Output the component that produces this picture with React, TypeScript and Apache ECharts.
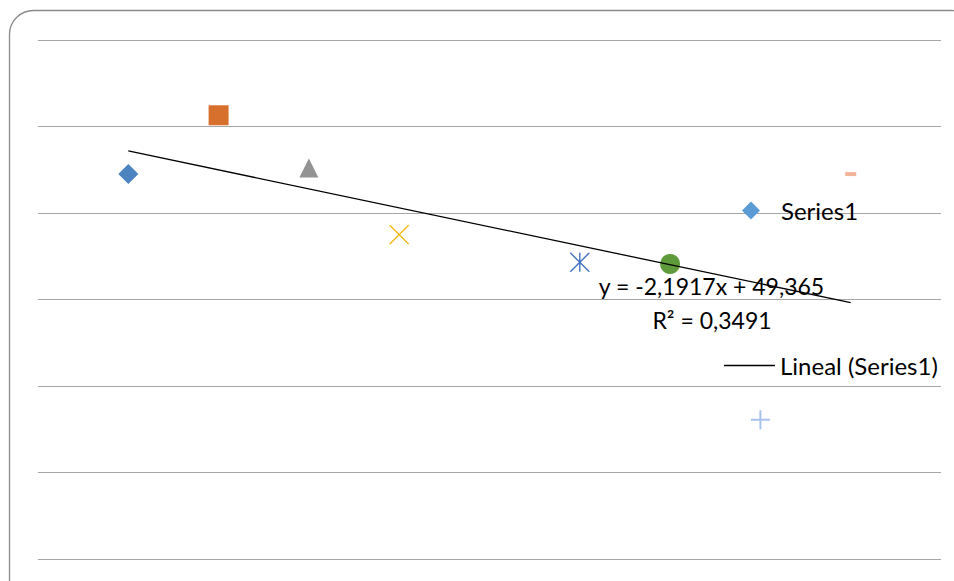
import React, { useEffect, useRef } from "react";
import * as echarts from "echarts";

// ---- data ----
const X_VALUES = [1, 2, 3, 4, 6, 7, 8, 9];
const Y_VALUES = [44.5, 51.3, 45.2, 37.5, 34.3, 34.1, 16.1, 44.5];
const SERIES_NAME = "Series1";
const TREND_NAME = "Lineal (Series1)";
const TREND_SLOPE = -2.1917;
const TREND_INTERCEPT = 49.365;
const R_SQUARED = "0,3491";
const Y_MIN = 0;
const Y_MAX = 60;
const Y_STEP = 10;
const X_MIN = 0;
const X_MAX = 10;

// ---- marker styles (one per point, Excel "vary colors by point") ----
const MARKERS = [
  { symbol: "diamond", size: 20, fill: "#4b84c1" },
  { symbol: "rect", size: 20, fill: "#d6702c" },
  { symbol: "triangle", size: 19, fill: "#939393" },
  { symbol: "path://M0,0L10,10M10,0L0,10", size: 19, stroke: "#f2b300", lw: 1.4 },
  { symbol: "path://M0,0L10,10M10,0L0,10M5,0L5,10", size: 19, stroke: "#4472c4", lw: 1.4 },
  { symbol: "circle", size: 20, fill: "#5f9b3b" },
  { symbol: "path://M5,0L5,10M0,5L10,5", size: 19, stroke: "#a7c3ea", lw: 2 },
  { symbol: "rect", size: [11, 4], fill: "#f4b49a" },
];

const fmt = (v: number) => String(v).replace(".", ",");

export default function App() {
  const ref = useRef<HTMLDivElement>(null);
  useEffect(() => {
    if (!ref.current) return;
    const chart = echarts.init(ref.current, null, { renderer: "svg" });
    const xs = X_VALUES;
    const xMinData = Math.min(...xs);
    const xMaxData = Math.max(...xs);
    const trend = [
      [xMinData, TREND_INTERCEPT + TREND_SLOPE * xMinData],
      [xMaxData, TREND_INTERCEPT + TREND_SLOPE * xMaxData],
    ];
    const font = "Lato";
    const option: any = {
      animation: false,
      grid: { left: 38, right: 13, top: 40, bottom: 22 },
      xAxis: { type: "value", min: X_MIN, max: X_MAX, show: false },
      yAxis: {
        type: "value",
        min: Y_MIN,
        max: Y_MAX,
        interval: Y_STEP,
        axisLine: { show: false },
        axisTick: { show: false },
        axisLabel: { show: false },
        splitLine: { lineStyle: { color: "#a6a6a6", width: 1 } },
      },
      legend: [
        {
          data: [{ name: SERIES_NAME, icon: "diamond" }],
          left: 742,
          top: 198.5,
          padding: 0,
          itemWidth: 18,
          itemHeight: 18,
          itemStyle: { color: "#5b9bd5", opacity: 1 },
          textStyle: {
            fontFamily: font,
            fontSize: 24,
            color: "#000",
            padding: [0, 0, 0, 16],
          },
        },
        {
          data: [{ name: TREND_NAME, icon: "rect" }],
          left: 724,
          top: 353.5,
          padding: 0,
          itemWidth: 51,
          itemHeight: 1.3,
          itemStyle: { color: "#000" },
          textStyle: { fontFamily: font, fontSize: 24, color: "#000" },
        },
      ],
      series: [
        {
          name: SERIES_NAME,
          type: "scatter",
          symbol: "diamond",
          itemStyle: { color: "#5b9bd5", opacity: 1 },
          z: 2,
          data: X_VALUES.map((x, i) => {
            const m: any = MARKERS[i];
            return {
              value: [x, Y_VALUES[i]],
              symbol: m.symbol,
              symbolSize: m.size,
              itemStyle: m.fill
                ? { color: m.fill, opacity: 1 }
                : {
                    color: "rgba(0,0,0,0)",
                    borderColor: m.stroke,
                    borderWidth: m.lw,
                    opacity: 1,
                  },
            };
          }),
        },
        {
          name: TREND_NAME,
          type: "line",
          symbol: "none",
          z: 3,
          lineStyle: { color: "#000", width: 1.3 },
          itemStyle: { color: "#000" },
          data: trend,
        },
      ],
      graphic: [
        {
          type: "rect",
          silent: true,
          z: 0,
          shape: { x: 9.5, y: 10.5, width: 966, height: 600, r: 24 },
          style: { fill: "none", stroke: "#8a8a8a", lineWidth: 1.3 },
        },
        {
          type: "text",
          z: 1,
          x: 711.5,
          y: 286,
          style: {
            text: `y = ${fmt(TREND_SLOPE)}x + ${fmt(TREND_INTERCEPT)}`,
            fill: "#000",
            fontFamily: font,
            fontSize: 23,
            align: "center",
            verticalAlign: "middle",
          },
        },
        {
          type: "text",
          z: 1,
          x: 712,
          y: 320,
          style: {
            text: `R² = ${R_SQUARED}`,
            fill: "#000",
            fontFamily: font,
            fontSize: 23,
            align: "center",
            verticalAlign: "middle",
          },
        },
      ],
    };
    chart.setOption(option);
    return () => chart.dispose();
  }, []);
  return (
    <div
      ref={ref}
      style={{ position: "absolute", left: 0, top: 0, width: 954, height: 581 }}
    />
  );
}
